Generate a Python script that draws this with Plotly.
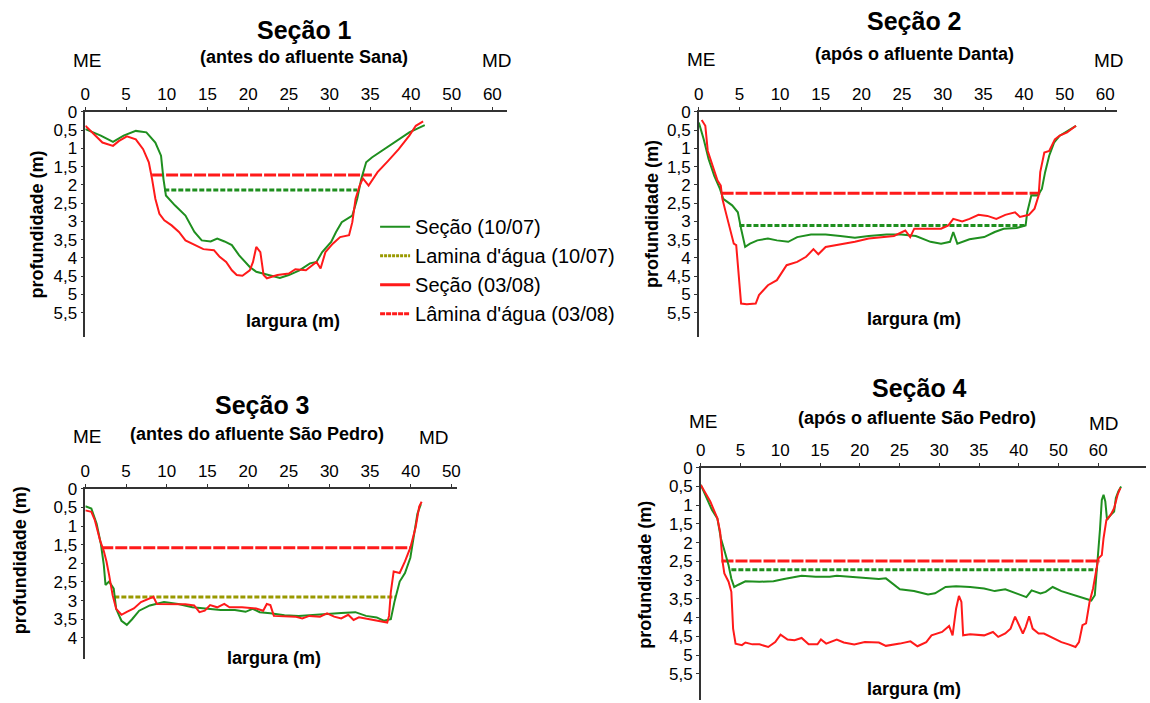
import plotly.graph_objects as go

W, H = 1150, 703

# ---------------- DATA (x: largura in axis units, y: profundidade m) ----------------
# Tick labels (visual axis positions 0..50 are labelled 0..40,50,60)
x_tickvals = [0, 5, 10, 15, 20, 25, 30, 35, 40, 45, 50]
x_ticktext = ["0", "5", "10", "15", "20", "25", "30", "35", "40", "50", "60"]
y_tickvals = [0, 0.5, 1, 1.5, 2, 2.5, 3, 3.5, 4, 4.5, 5, 5.5]
y_ticktext = ["0", "0,5", "1", "1,5", "2", "2,5", "3", "3,5", "4", "4,5", "5", "5,5"]

# Seção 1
s1_g_x = [0, 1.9, 3.4, 4.7, 6.2, 7.5, 8.6, 9.3, 9.6, 9.9, 11, 12.3, 13.4, 14.3, 15.4, 16.2, 17.1, 18, 18.9,
          20.2, 21, 21.9, 22.8, 23.9, 25, 26.3, 27.6, 28.4, 29.1, 30.2, 30.8, 31.5, 32.8, 33.4, 33.9, 34.5,
          35.2, 36.7, 38, 39.8, 41.7]
s1_g_y = [0.47, 0.65, 0.82, 0.65, 0.52, 0.56, 0.84, 1.2, 1.84, 2.29, 2.56, 2.84, 3.29, 3.52, 3.55, 3.47, 3.55,
          3.65, 3.93, 4.25, 4.38, 4.43, 4.47, 4.55, 4.47, 4.34, 4.15, 4.11, 3.84, 3.56, 3.29, 3.02, 2.84, 2.38,
          1.84, 1.38, 1.25, 1.02, 0.84, 0.56, 0.36]
s1_r_x = [0, 2.1, 3.4, 4.1, 5.1, 6.2, 7.1, 7.8, 8.2, 8.6, 9.1, 9.7, 10.6, 11.5, 12.3, 13.4, 14.5, 15.8, 16.5,
          17.3, 18, 18.6, 19.3, 20.2, 20.6, 21, 21.5, 21.9, 22.3, 23.6, 25, 25.8, 27.1, 28.4, 28.9, 29.5, 30.4,
          31.3, 32.4, 32.8, 33.2, 33.7, 34.1, 34.8, 35.9, 37.2, 38.5, 39.8, 40.6, 41.5]
s1_r_y = [0.38, 0.84, 0.93, 0.8, 0.67, 0.75, 1.02, 1.38, 1.84, 2.38, 2.79, 2.97, 3.11, 3.29, 3.52, 3.65, 3.76,
          3.79, 3.97, 4.11, 4.34, 4.47, 4.49, 4.34, 4.11, 3.7, 3.84, 4.47, 4.56, 4.47, 4.43, 4.31, 4.34, 4.11,
          4.29, 3.84, 3.61, 3.43, 3.38, 3.02, 2.38, 2.02, 1.82, 2.02, 1.65, 1.34, 1.02, 0.65, 0.38, 0.26]
s1_wl_g = [9.7, 33.4, 2.14]   # x start, x end, depth
s1_wl_r = [8.2, 35.2, 1.73]

# Seção 2
s2_g_x = [0, 0.6, 1.2, 1.9, 2.6, 3, 4.1, 4.8, 5.2, 5.7, 6.3, 7.2, 8.5, 9.6, 11, 12.1, 13.8, 15.6, 17.4, 19.2,
          20.9, 23.1, 24.9, 26.7, 28.5, 29.8, 30.9, 31.3, 31.8, 33.3, 35.1, 36.4, 37.5, 39.1, 40.2, 40.4, 40.9,
          41.7, 42.2, 42.6, 43.1, 43.7, 44.4, 45.1, 46.4]
s2_g_y = [0.29, 0.75, 1.29, 1.75, 2.11, 2.38, 2.56, 2.75, 3.2, 3.7, 3.61, 3.52, 3.47, 3.52, 3.56, 3.43, 3.36,
          3.36, 3.4, 3.45, 3.4, 3.36, 3.36, 3.4, 3.56, 3.61, 3.56, 3.29, 3.61, 3.49, 3.43, 3.29, 3.2, 3.18, 3.11,
          2.75, 2.29, 2.29, 2.11, 1.65, 1.2, 0.84, 0.65, 0.56, 0.38]
s2_r_x = [0.35, 0.8, 1.1, 1.7, 2.3, 2.7, 2.9, 3.2, 3.9, 4.3, 4.6, 5, 5.2, 5.9, 7, 7.4, 8.5, 9.6, 10.8, 12.1,
          13.2, 14.1, 14.7, 15.6, 17.4, 19.2, 20.9, 22.7, 24, 25.4, 26, 26.5, 28, 29.8, 30.7, 31.3, 32.4, 33.3,
          34.4, 35.5, 36.6, 37.7, 38.9, 39.5, 40.6, 41.3, 41.8, 42, 42.5, 43.1, 43.8, 44.4, 45.3, 46.4]
s2_r_y = [0.22, 0.38, 1.07, 1.47, 1.88, 2.02, 2.38, 2.65, 3.29, 3.61, 3.65, 4.65, 5.25, 5.27, 5.25, 5.02, 4.75,
          4.61, 4.2, 4.11, 3.97, 3.76, 3.9, 3.7, 3.63, 3.56, 3.47, 3.43, 3.4, 3.25, 3.43, 3.2, 3.2, 3.2, 3.11,
          2.93, 3.0, 2.93, 2.82, 2.85, 2.93, 2.82, 2.75, 2.88, 2.82, 2.65, 2.29, 1.65, 1.11, 1.07, 0.75, 0.65,
          0.56, 0.38]
s2_wl_g = [5.0, 40.2, 3.11]
s2_wl_r = [2.8, 42.0, 2.23]

# Seção 3
s3_g_x = [0, 0.74, 1.39, 1.92, 2.27, 2.48, 2.92, 3.49, 3.79, 4.44, 5.1, 5.75, 6.62, 7.93, 9.67, 11.42, 13.16,
          14.9, 16.64, 18.39, 19.7, 20.57, 21.44, 22.75, 24.49, 26.23, 27.97, 29.72, 31.46, 33.2, 34.51, 35.82,
          36.69, 37.56, 38.0, 38.65, 39.3, 39.96, 40.39, 40.83, 41.26]
s3_g_y = [0.47, 0.53, 0.94, 1.49, 2.04, 2.58, 2.49, 2.68, 3.22, 3.54, 3.65, 3.5, 3.27, 3.13, 3.04, 3.09, 3.18,
          3.22, 3.25, 3.25, 3.3, 3.22, 3.31, 3.34, 3.39, 3.41, 3.38, 3.36, 3.33, 3.31, 3.41, 3.45, 3.54, 3.5,
          3.04, 2.49, 2.26, 1.85, 1.31, 0.67, 0.41]
s3_r_x = [0, 0.74, 1.18, 1.83, 2.27, 2.6, 2.92, 3.36, 3.79, 4.44, 5.1, 5.97, 6.84, 7.71, 8.37, 8.8, 10.54,
          12.29, 13.38, 14.03, 14.68, 15.34, 16.21, 17.08, 17.73, 19.26, 21.0, 21.87, 22.31, 22.75, 23.18,
          24.49, 25.8, 26.67, 27.54, 28.85, 29.72, 30.59, 31.46, 32.33, 32.98, 33.64, 34.95, 35.82, 36.47,
          37.12, 37.34, 37.56, 37.91, 38.65, 39.3, 39.96, 40.61, 41.05, 41.35]
s3_r_y = [0.58, 0.62, 0.85, 1.4, 1.67, 1.95, 2.31, 2.86, 3.22, 3.38, 3.3, 3.21, 3.04, 2.95, 2.9, 3.09, 3.1,
          3.1, 3.13, 3.31, 3.27, 3.12, 3.18, 3.09, 3.18, 3.18, 3.21, 3.27, 3.09, 3.12, 3.41, 3.43, 3.43, 3.48,
          3.41, 3.43, 3.34, 3.43, 3.48, 3.38, 3.52, 3.45, 3.5, 3.54, 3.56, 3.59, 3.41, 2.77, 2.22, 2.26, 1.95,
          1.58, 1.03, 0.48, 0.35]
s3_wl_g = [3.57, 38.21, 2.9]
s3_wl_r = [1.96, 40.17, 1.58]

# Seção 4
s4_g_x = [0, 0.75, 1.41, 2.08, 2.52, 2.96, 3.49, 3.84, 4.2, 4.73, 5.61, 7.38, 9.14, 10.47, 11.79, 12.68,
          14.45, 16.22, 17.1, 18.86, 20.63, 22.4, 23.28, 24.16, 25.04, 26.81, 28.58, 29.46, 30.79, 32.11,
          33.88, 35.64, 36.97, 38.3, 39.62, 40.95, 41.61, 42.72, 43.38, 44.26, 45.36, 46.91, 48.46, 49.12,
          49.56, 49.78, 50.0, 50.22, 50.44, 50.66, 50.88, 51.1, 51.55, 51.99, 52.21, 52.52, 52.87]
s4_g_y = [0.46, 0.81, 1.13, 1.35, 1.88, 2.2, 2.6, 2.96, 3.18, 3.12, 3.03, 3.04, 3.03, 2.97, 2.91, 2.88, 2.91,
          2.91, 2.88, 2.91, 2.93, 2.97, 2.95, 3.09, 3.24, 3.29, 3.38, 3.35, 3.18, 3.16, 3.18, 3.22, 3.29, 3.24,
          3.35, 3.45, 3.27, 3.35, 3.31, 3.18, 3.29, 3.4, 3.49, 3.54, 3.4, 2.87, 2.15, 1.62, 0.86, 0.72, 0.9,
          1.39, 1.26, 1.17, 0.81, 0.63, 0.5]
s4_r_x = [0, 1.19, 2.08, 2.43, 2.74, 2.96, 3.49, 3.84, 4.06, 4.37, 5.17, 5.61, 6.49, 7.38, 8.48, 9.36, 10.03,
          10.91, 11.79, 12.68, 13.56, 14.67, 15.11, 15.77, 17.1, 17.98, 19.3, 20.63, 22.4, 23.28, 25.04, 26.37,
          27.25, 28.36, 29.02, 30.35, 31.23, 31.67, 32.11, 32.47, 32.78, 33.0, 33.88, 35.64, 36.75, 37.41,
          38.3, 38.96, 39.53, 40.06, 40.51, 40.86, 41.3, 41.74, 42.49, 43.16, 44.04, 45.36, 46.25, 47.13,
          47.57, 48.01, 48.46, 48.9, 49.34, 49.69, 50.0, 50.44, 50.66, 51.02, 51.55, 51.99, 52.43, 52.78]
s4_r_y = [0.46, 0.9, 1.35, 1.71, 2.51, 2.82, 3.04, 3.31, 4.29, 4.69, 4.73, 4.66, 4.71, 4.71, 4.78, 4.65, 4.45,
          4.58, 4.6, 4.54, 4.71, 4.71, 4.58, 4.69, 4.58, 4.66, 4.71, 4.65, 4.66, 4.75, 4.69, 4.63, 4.76, 4.65,
          4.47, 4.38, 4.22, 4.47, 3.76, 3.42, 3.58, 4.47, 4.44, 4.47, 4.38, 4.51, 4.42, 4.29, 3.97, 4.2, 4.42,
          4.25, 3.96, 4.29, 4.42, 4.42, 4.51, 4.65, 4.71, 4.78, 4.65, 4.2, 4.15, 3.58, 3.22, 2.82, 2.42, 2.33,
          1.88, 1.39, 1.26, 1.08, 0.72, 0.54]
s4_wl_g = [3.84, 49.87, 2.72]
s4_wl_r = [2.6, 50.22, 2.49]

titles = ["Seção 1", "Seção 2", "Seção 3", "Seção 4"]
subtitles = ["(antes do afluente Sana)", "(após o afluente Danta)",
             "(antes do afluente São Pedro)", "(após o afluente São Pedro)"]
legend_names = ["Seção (10/07)", "Lamina d'água (10/07)", "Seção (03/08)", "Lâmina d'água (03/08)"]

# ---------------- STYLE ----------------
GREEN = "#1f8f1f"
RED = "#ff1a1a"
OLIVE = "#999900"
FONT = "Arial, Liberation Sans, sans-serif"

def px_x(p):
    return ((p - 2.6) / 0.993) / W

def px_y(p):
    return 1 - ((p - 10.3) / 0.985) / H

panels = [
    dict(x0=83, x1=505, xmax=51.8, yt=113, yb=338, ymax=6.18, nx=11, ny=12, wlg=GREEN),
    dict(x0=697, x1=1116, xmax=51.5, yt=113, yb=338, ymax=6.18, nx=11, ny=12, wlg=GREEN),
    dict(x0=83, x1=455, xmax=45.7, yt=489, yb=659, ymax=4.57, nx=10, ny=9, wlg=OLIVE),
    dict(x0=699, x1=1149, xmax=56.0, yt=468, yb=700, ymax=6.2, nx=11, ny=12, wlg=GREEN),
]
data = [
    (s1_g_x, s1_g_y, s1_r_x, s1_r_y, s1_wl_g, s1_wl_r),
    (s2_g_x, s2_g_y, s2_r_x, s2_r_y, s2_wl_g, s2_wl_r),
    (s3_g_x, s3_g_y, s3_r_x, s3_r_y, s3_wl_g, s3_wl_r),
    (s4_g_x, s4_g_y, s4_r_x, s4_r_y, s4_wl_g, s4_wl_r),
]

fig = go.Figure()
layout = {}
for i, (p, d) in enumerate(zip(panels, data)):
    n = "" if i == 0 else str(i + 1)
    xa, ya = "x" + n, "y" + n
    gx, gy, rx, ry, wg, wr = d
    fig.add_trace(go.Scatter(x=[wg[0], wg[1]], y=[wg[2], wg[2]], mode="lines", xaxis=xa, yaxis=ya,
                             line=dict(color=p["wlg"], width=3, dash="5px,2px"), showlegend=False))
    fig.add_trace(go.Scatter(x=[wr[0], wr[1]], y=[wr[2], wr[2]], mode="lines", xaxis=xa, yaxis=ya,
                             line=dict(color=RED, width=3, dash="12px,2px"), showlegend=False))
    fig.add_trace(go.Scatter(x=gx, y=gy, mode="lines", xaxis=xa, yaxis=ya,
                             line=dict(color=GREEN, width=2), showlegend=False))
    fig.add_trace(go.Scatter(x=rx, y=ry, mode="lines", xaxis=xa, yaxis=ya,
                             line=dict(color=RED, width=2), showlegend=False))
    layout["xaxis" + n] = dict(
        domain=[px_x(p["x0"]), min(1.0, px_x(p["x1"]))], range=[0, p["xmax"]], anchor=ya, side="top",
        tickvals=x_tickvals[:p["nx"]], ticktext=x_ticktext[:p["nx"]],
        showline=True, linecolor="#333333", linewidth=1.5, ticks="outside", ticklen=3,
        tickcolor="#333333", showgrid=False, zeroline=False,
        tickfont=dict(family=FONT, size=17, color="black"))
    layout["yaxis" + n] = dict(
        domain=[max(0.0, px_y(p["yb"])), px_y(p["yt"])], range=[p["ymax"], 0], anchor=xa,
        tickvals=y_tickvals[:p["ny"]], ticktext=y_ticktext[:p["ny"]],
        showline=True, linecolor="#333333", linewidth=1.5, ticks="outside", ticklen=3,
        tickcolor="#333333", showgrid=False, zeroline=False,
        tickfont=dict(family=FONT, size=17, color="black"))

# legend-only entries
legend_colors = [GREEN, OLIVE, RED, RED]
legend_dash = ["solid", "3px,1px", "solid", "5px,1px"]
legend_width = [2, 3, 3, 3]
for k in range(4):
    fig.add_trace(go.Scatter(x=[None], y=[None], mode="lines", name=legend_names[k],
                             legendgroup="g%d" % k,
                             line=dict(color=legend_colors[k], width=legend_width[k], dash=legend_dash[k])))

ann = []
text_pos = [
    # title, subtitle, ME, MD, ylabel, xlabel
    ((302, 31), (302, 58), (85, 62), (495, 62), (35, 225), (291, 322)),
    ((913, 22), (913, 55), (700, 61), (1108, 62), (650, 215), (912, 320)),
    ((260, 405), (255, 434), (85, 437), (432, 438), (18, 560), (272, 658)),
    ((918, 388), (915, 418), (702, 422), (1103, 424), (643, 575), (912, 689)),
]
for i, tp in enumerate(text_pos):
    (tx, ty), (sx, sy), (mex, mey), (mdx, mdy), (ylx, yly), (xlx, xly) = tp
    ann.append(dict(x=px_x(tx), y=px_y(ty), text="<b>%s</b>" % titles[i],
                    font=dict(family=FONT, size=25, color="black")))
    ann.append(dict(x=px_x(sx), y=px_y(sy), text="<b>%s</b>" % subtitles[i],
                    font=dict(family=FONT, size=18, color="black")))
    ann.append(dict(x=px_x(mex), y=px_y(mey), text="ME", font=dict(family=FONT, size=19, color="black")))
    ann.append(dict(x=px_x(mdx), y=px_y(mdy), text="MD", font=dict(family=FONT, size=19, color="black")))
    ann.append(dict(x=px_x(ylx), y=px_y(yly), text="<b>profundidade (m)</b>", textangle=-90,
                    font=dict(family=FONT, size=18, color="black")))
    ann.append(dict(x=px_x(xlx), y=px_y(xly), text="<b>largura (m)</b>",
                    font=dict(family=FONT, size=18, color="black")))
for a in ann:
    a.update(xref="paper", yref="paper", showarrow=False, xanchor="center", yanchor="middle")

fig.update_layout(
    width=W, height=H, margin=dict(l=0, r=0, t=0, b=0),
    paper_bgcolor="white", plot_bgcolor="white",
    annotations=ann,
    legend=dict(x=px_x(373), y=px_y(208), xanchor="left", yanchor="top",
                bgcolor="rgba(0,0,0,0)", tracegroupgap=0,
                font=dict(family=FONT, size=20, color="black")),
    **layout,
)

fig.write_html("out.html", config={"displayModeBar": False},
               post_script="document.body.style.margin='0px';document.body.style.overflow='hidden';")
